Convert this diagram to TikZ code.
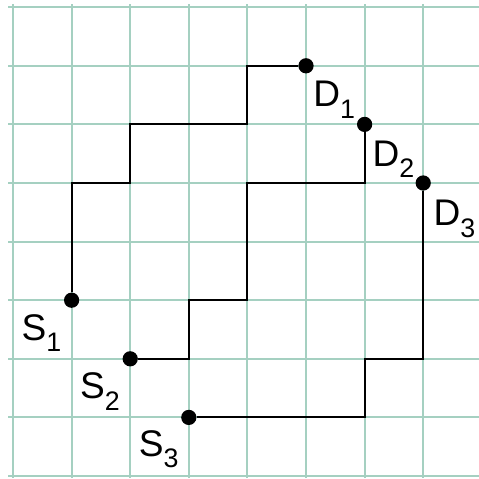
\documentclass[tikz,border=0pt]{standalone}
\usepackage{fontspec}
\setmainfont{Liberation Sans}
\usetikzlibrary{positioning}

\definecolor{gridteal}{RGB}{165,208,193}

\tikzset{
  gridline/.style={gridteal, line width=1pt},
  route/.style={black, line width=1.05pt},
  dot/.style={circle, fill=black, inner sep=0pt, minimum size=0.26cm},
  lbl/.style={inner sep=0pt, anchor=base west, font=\fontsize{18}{20}\selectfont}
}

\newcommand{\term}[2]{#1\raisebox{-0.2cm}{\fontsize{13}{14}\selectfont #2}}

\begin{document}
\begin{tikzpicture}

\useasboundingbox (-0.222,-0.034) rectangle (7.952,8.123);

% Grid
\foreach \y in {0,...,8}
  \draw[gridline] (-0.085,\y) -- (7.952,\y);
\foreach \x in {0,...,7}
  \draw[gridline] (\x,-0.034) -- (\x,8.05);

% Sources
\node[dot] (S1) at (1,3) {};
\node[dot] (S2) at (2,2) {};
\node[dot] (S3) at (3,1) {};

% Destinations
\node[dot] (D1) at (5,7) {};
\node[dot] (D2) at (6,6) {};
\node[dot] (D3) at (7,5) {};

% Routes
\draw[route] (S1) |- (2,5) |- (4,6) |- (D1);
\draw[route] (S2) -| (3,3) -| (4,5) -| (D2);
\draw[route] (S3) -| (6,2) -| (D3);

% Labels
\node[lbl] (S1lbl) at ([shift={(-0.86,-0.68)}]S1) {\term{S}{1}};
\node[lbl] (S2lbl) at ([shift={(-0.86,-0.68)}]S2) {\term{S}{2}};
\node[lbl] (S3lbl) at ([shift={(-0.86,-0.66)}]S3) {\term{S}{3}};
\node[lbl] (D1lbl) at ([shift={(0.12,-0.70)}]D1) {\term{D}{1}};
\node[lbl] (D2lbl) at ([shift={(0.13,-0.71)}]D2) {\term{D}{2}};
\node[lbl] (D3lbl) at ([shift={(0.17,-0.73)}]D3) {\term{D}{3}};

\end{tikzpicture}
\end{document}
